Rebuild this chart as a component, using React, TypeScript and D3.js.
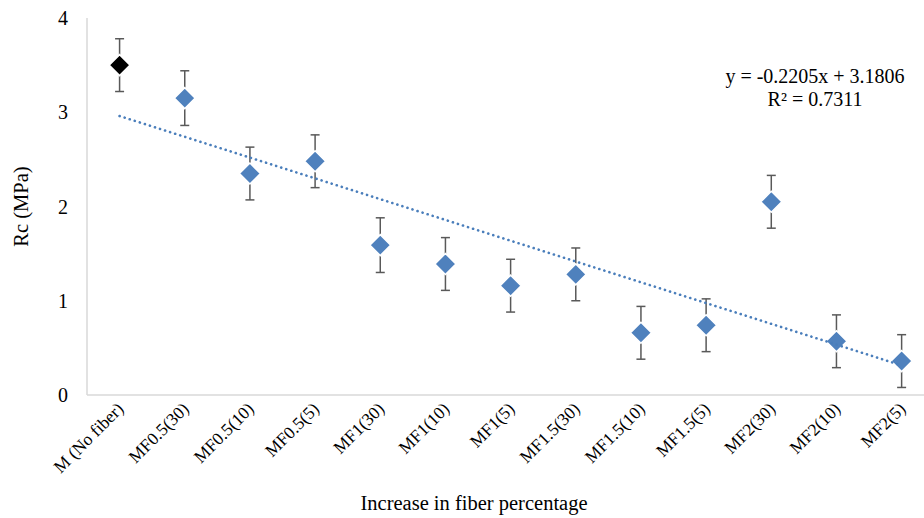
import React from "react";
import * as d3 from "d3";

const categories = [
  "M (No fiber)", "MF0.5(30)", "MF0.5(10)", "MF0.5(5)", "MF1(30)", "MF1(10)", "MF1(5)",
  "MF1.5(30)", "MF1.5(10)", "MF1.5(5)", "MF2(30)", "MF2(10)", "MF2(5)",
];
const rcValues = [3.5, 3.15, 2.35, 2.48, 1.59, 1.39, 1.16, 1.28, 0.66, 0.74, 2.05, 0.57, 0.36];
const rcErrors = [0.28, 0.29, 0.28, 0.28, 0.29, 0.28, 0.28, 0.28, 0.28, 0.28, 0.28, 0.28, 0.28];
const yTicks = [0, 1, 2, 3, 4];
const trendSlope = -0.2205;
const trendIntercept = 3.1806;
const rSquared = 0.7311;

const W = 924;
const H = 518;
const left = 87;
const top = 18;
const bottom = 395;
const serifStyle = { fontFamily: "Liberation Serif, Times New Roman, serif" };

export default function App() {
  const x = d3.scalePoint<string>().domain(categories).range([left, left + 13 * 65.17]).padding(0.5);
  const y = d3.scaleLinear().domain([0, 4]).range([bottom, top]);

  const trendPts: [number, number][] = [1, categories.length].map((i) => [
    x(categories[i - 1])!,
    y(trendSlope * i + trendIntercept),
  ]);
  const trendPath = d3.line()(trendPts) ?? "";

  const half = 10.5;
  const diamondPath = `M0,${-half}L${half},0L0,${half}L${-half},0Z`;

  return (
    <svg width={W} height={H} style={{ position: "absolute", left: 0, top: 0, background: "#fff" }}>
      {/* axis lines */}
      <line x1={left} y1={top} x2={left} y2={bottom} stroke="#D9D9D9" strokeWidth={1.5} />
      <line x1={left} y1={bottom} x2={W} y2={bottom} stroke="#D9D9D9" strokeWidth={1.5} />

      <g style={serifStyle} fill="#000">
        {/* y tick labels */}
        {yTicks.map((t) => (
          <text key={t} x={68} y={y(t)} dy="0.35em" textAnchor="end" fontSize={20}>
            {t}
          </text>
        ))}

        {/* x tick labels */}
        {categories.map((c) => (
          <text key={c} transform={`translate(${x(c)! + 5},${410}) rotate(-45)`} textAnchor="end" fontSize={17.5}>
            {c}
          </text>
        ))}
      </g>

      {/* error bars */}
      {categories.map((c, i) => {
        const cx = x(c)!;
        const y1 = y(rcValues[i] + rcErrors[i]);
        const y2 = y(rcValues[i] - rcErrors[i]);
        return (
          <g key={c} stroke="#595959" strokeWidth={1.5}>
            <line x1={cx} x2={cx} y1={y1} y2={y2} />
            <line x1={cx - 4.5} x2={cx + 4.5} y1={y1} y2={y1} />
            <line x1={cx - 4.5} x2={cx + 4.5} y1={y2} y2={y2} />
          </g>
        );
      })}

      {/* markers */}
      {categories.map((c, i) => (
        <path
          key={c}
          d={diamondPath}
          transform={`translate(${x(c)},${y(rcValues[i])})`}
          fill={i === 0 ? "#000" : "#4F81BD"}
          stroke="#fff"
          strokeWidth={1.5}
        />
      ))}

      {/* linear trend line */}
      <path d={trendPath} fill="none" stroke="#4A7EBB" strokeWidth={2.6} strokeDasharray="0.1 5.2" strokeLinecap="round" />

      <g style={serifStyle} fill="#000">
        {/* trend equation */}
        <text x={815} y={83} textAnchor="middle" fontSize={20}>
          {`y = ${trendSlope}x + ${trendIntercept}`}
        </text>
        <text x={815} y={106} textAnchor="middle" fontSize={20}>
          {`R² = ${rSquared}`}
        </text>

        {/* axis titles */}
        <text transform={`translate(28,${(top + bottom) / 2}) rotate(-90)`} textAnchor="middle" fontSize={20.5}>
          Rc (MPa)
        </text>
        <text x={474} y={510} textAnchor="middle" fontSize={20.5}>
          Increase in fiber percentage
        </text>
      </g>
    </svg>
  );
}
